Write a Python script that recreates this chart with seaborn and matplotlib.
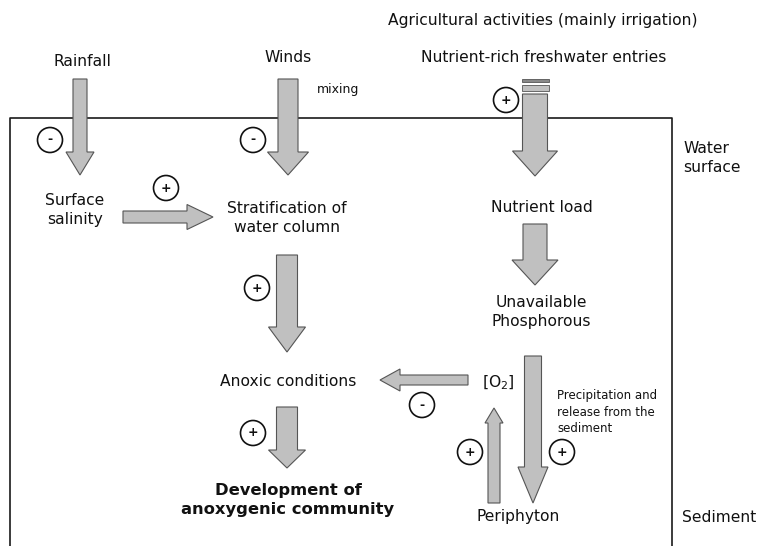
import matplotlib
matplotlib.use("Agg")
import matplotlib.pyplot as plt
from matplotlib.patches import Circle, Rectangle
import seaborn as sns

# Nodes of the conceptual diagram
node_names = ["rain", "wind", "agri", "entries", "salinity", "strat",
              "nutrient", "phos", "anoxic", "o2", "develop", "peri"]
node_labels = ["Rainfall", "Winds", "Agricultural activities (mainly irrigation)",
               "Nutrient-rich freshwater entries", "Surface\nsalinity",
               "Stratification of\nwater column", "Nutrient load",
               "Unavailable\nPhosphorous", "Anoxic conditions", "[O$_2$]",
               "Development of\nanoxygenic community", "Periphyton"]

# Causal links (source, target, sign)
link_src = ["rain", "wind", "entries", "salinity", "nutrient", "strat",
            "anoxic", "o2", "peri", "phos"]
link_dst = ["salinity", "strat", "nutrient", "strat", "phos", "anoxic",
            "develop", "anoxic", "o2", "peri"]
link_sign = ["-", "-", "+", "+", "", "+", "+", "-", "+", "+"]

side_labels = ["Water\nsurface", "Sediment"]
note_mixing = "mixing"
note_precip = "Precipitation and\nrelease from the\nsediment"

# ---- layout (pixel coordinates, y downwards) ----
node_pos = {
    "rain": (82, 62), "wind": (288, 58), "agri": (543, 20),
    "entries": (544, 57), "salinity": (75, 210), "strat": (287, 218),
    "nutrient": (542, 208), "phos": (541, 312), "anoxic": (288, 382),
    "o2": (498, 383), "develop": (288, 500), "peri": (518, 517),
}
bold_nodes = ["develop"]
# arrow geometry: start, end, shaft width, head width, head length
arrow_geom = [
    ((80, 79), (80, 175), 14, 28, 23),
    ((288, 79), (288, 175), 20, 41, 23),
    ((535, 94), (535, 176), 25, 45, 25),
    ((123, 217), (213, 217), 12, 25, 26),
    ((535, 224), (535, 285), 24, 46, 25),
    ((287, 255), (287, 352), 21, 37, 25),
    ((287, 407), (287, 468), 21, 37, 18),
    ((468, 380), (380, 380), 10, 22, 20),
    ((494, 503), (494, 408), 12, 18, 15),
    ((533, 356), (533, 503), 17, 30, 36),
]
sign_pos = [(50, 140), (253, 140), (506, 100), (166, 188), None,
            (257, 288), (253, 433), (422, 405), (470, 452), (562, 452)]

sns.set_theme(style="white")
plt.rcParams["font.family"] = ["DejaVu Sans"]

fig = plt.figure(figsize=(7.58, 5.46), dpi=100)
ax = fig.add_axes([0, 0, 1, 1])
ax.set_xlim(0, 758)
ax.set_ylim(546, 0)
ax.axis("off")

# water body outline
ax.plot([10, 10, 672, 672], [546, 118, 118, 546], color="#1a1a1a", lw=1.2, zorder=1)

fill, edge = "#c0c0c0", "#555555"
for (x0, y0), (x1, y1), w, hw, hl in arrow_geom:
    ax.arrow(x0, y0, x1 - x0, y1 - y0, width=w, head_width=hw, head_length=hl,
             length_includes_head=True, fc=fill, ec=edge, lw=0.8, zorder=3)

# stripes on the freshwater entry arrow
ax.add_patch(Rectangle((522, 79), 27, 3, fc="#888888", ec=edge, lw=0.6, zorder=3))
ax.add_patch(Rectangle((522, 85), 27, 6, fc=fill, ec=edge, lw=0.6, zorder=3))

for pos, s in zip(sign_pos, link_sign):
    if pos is None or not s:
        continue
    ax.add_patch(Circle(pos, 12.5, fc="white", ec="#111111", lw=1.2, zorder=4))
    ax.text(pos[0], pos[1], "+" if s == "+" else "-", ha="center", va="center",
            fontsize=9, fontweight="bold", color="#111111", zorder=5)

for name, label in zip(node_names, node_labels):
    x, y = node_pos[name]
    bold = name in bold_nodes
    ax.text(x, y, label, ha="center", va="center", linespacing=1.4,
            fontsize=11.8 if bold else 11.2,
            fontweight="bold" if bold else "normal",
            color="#111111", zorder=5)

ax.text(683, 158, side_labels[0], ha="left", va="center", fontsize=11.2,
        linespacing=1.4, color="#111111")
ax.text(682, 517, side_labels[1], ha="left", va="center", fontsize=11.2,
        color="#111111")
ax.text(317, 90, note_mixing, ha="left", va="center", fontsize=9, color="#111111")
ax.text(557, 412, note_precip, ha="left", va="center", fontsize=8.5,
        linespacing=1.35, color="#111111")

fig.savefig("out.png", dpi=100, facecolor="white")
